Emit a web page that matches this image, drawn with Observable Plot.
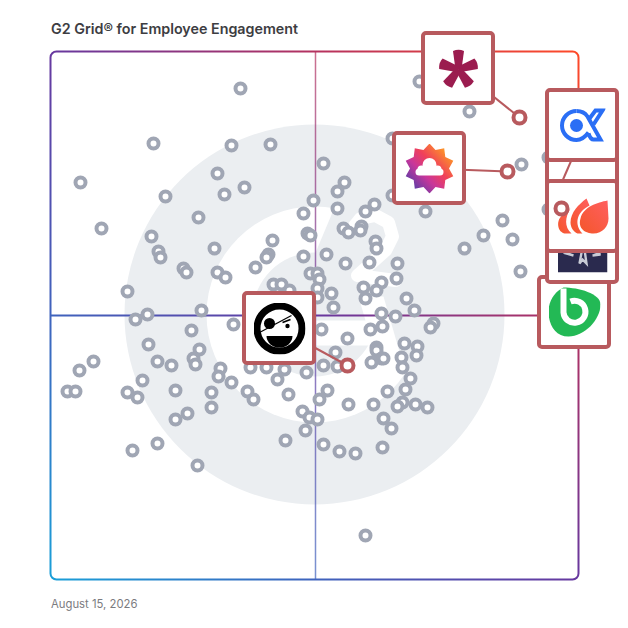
<!DOCTYPE html>
<html><head><meta charset="utf-8">
<script src="https://cdn.jsdelivr.net/npm/d3@7"></script>
<script src="https://cdn.jsdelivr.net/npm/@observablehq/plot@0.6"></script>
<style>
html,body{margin:0;padding:0;background:#fff;overflow:hidden}
#title{box-sizing:border-box;height:30px;padding:14px 0 0 51px;font:600 14.3px/30px Inter,sans-serif;color:#3d3d42;white-space:nowrap}
#date{padding:7px 0 0 51px;font:400 11.3px Inter,sans-serif;color:#7b7b80}
svg{display:block;overflow:visible}
</style></head><body>
<div id="title">G2 Grid® for Employee Engagement</div>
<div id="chart"></div>
<div id="date">August 15, 2026</div>
<script>
const satisfaction = [189,102,180,219,29,368,418,497,470,114,50,497,451,432,461,413,469,76,16,24,28,42,76,86,91,272,166,193,173,293,286,262,252,286,323,314,374,341,341,147,100,107,109,163,221,256,259,292,297,310,309,324,325,217,215,204,252,275,294,318,346,345,330,325,312,314,132,135,166,174,259,266,268,222,230,238,266,280,282,266,355,363,330,344,150,96,84,182,140,270,319,331,382,379,296,97,353,366,365,350,351,325,325,330,332,320,284,272,286,255,233,215,199,226,148,142,144,106,120,169,167,180,124,160,160,196,202,237,359,354,336,276,268,351,346,364,376,322,297,251,258,266,332,340,254,136,124,234,272,288,304,331,106,81,146,314];
const marketPresence = [491,436,434,435,397,498,468,422,415,383,351,370,359,344,340,331,308,288,188,188,209,218,187,182,199,416,406,392,385,397,388,379,366,371,375,368,368,441,384,362,343,328,322,331,339,346,344,351,347,353,349,338,331,325,322,312,323,325,316,317,316,301,297,289,292,281,311,307,307,302,306,306,300,295,295,289,291,286,272,282,281,269,266,263,269,265,260,255,249,250,250,253,256,252,241,235,236,233,224,222,212,232,229,221,221,217,227,214,213,207,210,212,212,200,230,221,215,218,214,211,203,197,189,187,172,188,180,185,201,190,188,189,180,177,173,175,172,175,175,168,162,160,161,151,149,166,160,139,135,128,126,132,136,129,114,44];

const logoNames = ["green","dark","hidden","alpha","flame","sunburst","asterisk","pirate"];
const logoX = [523,531,531,531,531,378,407,228];
const logoY = [267,332,414,454,363,411,511,251];
const ringNames = ["asterisk","sunburst","pirate","flame"];
const ringX = [468,456,296,510];
const ringY = [462,408,214,371];
const ringFromX = [407,378,228,531];
const ringFromY = [511,411,251,363];
const hiddenLinkX = [535,505];
const hiddenLinkY = [454,385];

const markX = 263, markY = 265;
const gapX = [286,389,389,354,324,279,262];
const gapY = [379,379,179,204,283,283,322];
const chevronX = [307,332,354,335,321,249,249,314];
const chevronY = [283,283,207,184,234,234,259,259];
const twoX = [301,309,324,337,341,334,306,344];
const twoY = [351,361,364,357,343,329,304,299];

const uri = s => "data:image/svg+xml," + encodeURIComponent(s);
const star = (() => {
  const p = [];
  for (let i = 0; i < 20; i++) {
    const a = -Math.PI / 2 + i * Math.PI / 10, r = i % 2 ? 19.5 : 25;
    p.push([(25 + r * Math.cos(a)).toFixed(1), (25 + r * Math.sin(a)).toFixed(1)].join(","));
  }
  return p.join(" ");
})();
const arms = [0,72,144,216,288].map(a => `<path transform="rotate(${a} 20 21)" d="M17 21 L14.5 2.5 Q20 0 25.5 2.5 L23 21Z"/>`).join("");
const logos = {
  asterisk: {w:40, src:uri(`<svg xmlns="http://www.w3.org/2000/svg" viewBox="0 0 40 40"><g fill="#9b1c4f">${arms}</g></svg>`)},
  alpha: {w:46, src:uri(`<svg xmlns="http://www.w3.org/2000/svg" viewBox="0 0 46 36"><g fill="none" stroke="#2a6ef5" stroke-width="4"><path d="M17 3.5A14.5 14.5 0 1 0 17 32.5C23 32.5 26 29 29 25"/><path d="M17 3.5C23 3.5 26 6 28 9L41 32H34C32 32 30 29 29 26"/><path d="M30 11L36 3H43L34 17"/></g><circle cx="17" cy="18" r="6.5" fill="#2a6ef5"/></svg>`)},
  flame: {w:54, src:uri(`<svg xmlns="http://www.w3.org/2000/svg" viewBox="0 0 54 36"><defs><linearGradient id="f" x1="0" y1="1" x2="1" y2="0"><stop offset="0" stop-color="#f4562a"/><stop offset="1" stop-color="#ff5f60"/></linearGradient></defs><g fill="url(#f)"><path d="M52 2C42 4 28 8 25 20C22 30 30 35 38 35C47 35 53 28 53 20Z"/><path d="M31 0C23 6 15 14 15 24C15 29 18 33 22 35L27 35C19 27 20 14 34 7Z"/><path d="M9 16C1 18 0 33 9 35L16 35C8 28 10 18 15 10Z"/></g></svg>`)},
  dark: {w:50, src:uri(`<svg xmlns="http://www.w3.org/2000/svg" viewBox="0 0 50 50"><rect width="50" height="50" fill="#2a2a4e"/><path d="M25 25L22 41L25 37L29 41L27 27M25 25L9 31L16 33M27 26L43 32L35 33" fill="none" stroke="#c8cbd6" stroke-width="2.4"/></svg>`)},
  green: {w:52, src:uri(`<svg xmlns="http://www.w3.org/2000/svg" viewBox="0 0 52 50"><path d="M15 0C30 0 52 6 52 17C52 32 36 49 20 49C6 49 0 36 0 24C0 14 6 4 15 0Z" fill="#23b955"/><path d="M15 1V25A11 11 0 1 0 22 14" fill="none" stroke="#fff" stroke-width="6"/></svg>`)},
  sunburst: {w:50, src:uri(`<svg xmlns="http://www.w3.org/2000/svg" viewBox="0 0 50 50"><defs><linearGradient id="s" x1="0.1" y1="0.9" x2="0.9" y2="0.1"><stop offset="0" stop-color="#4f3fa8"/><stop offset="0.35" stop-color="#c9369a"/><stop offset="0.6" stop-color="#f0405a"/><stop offset="1" stop-color="#ffa41f"/></linearGradient></defs><polygon points="${star}" fill="url(#s)"/><g fill="#fff"><circle cx="25" cy="21.5" r="7"/><circle cx="17" cy="26" r="4"/><circle cx="33" cy="26" r="4"/><rect x="11" y="25" width="28" height="7" rx="3.5"/></g></svg>`)},
  pirate: {w:52, src:uri(`<svg xmlns="http://www.w3.org/2000/svg" viewBox="0 0 52 52"><circle cx="26" cy="26" r="22.5" fill="none" stroke="#000" stroke-width="7"/><circle cx="16" cy="21" r="5.5"/><path d="M6 30L38 13" stroke="#000" stroke-width="1.2"/><circle cx="34" cy="23.5" r="2.2"/><path d="M29 20L37 17" stroke="#000" stroke-width="1.8"/><path d="M13 33.5H39A13 11.5 0 0 1 13 33.5Z"/></svg>`)}
};

const rows = satisfaction.map((x, i) => ({x, y: marketPresence[i]}));
const pts = (xs, ys) => xs.map((x, i) => ({x, y: ys[i]}));
const logoRows = logoNames.map((name, i) => ({name, x: logoX[i], y: logoY[i]}));
const ringRows = ringNames.map((name, i) => ({name, x: ringX[i], y: ringY[i], x0: ringFromX[i], y0: ringFromY[i]}));

const boxMark = d => [
  Plot.rect([d], {x1: r => r.x - 35, x2: r => r.x + 35, y1: r => r.y - 35, y2: r => r.y + 35, fill: "white", stroke: "#b85a5e", strokeWidth: 4, rx: 3}),
  ...(logos[d.name] ? [Plot.image([d], {x: "x", y: "y", src: r => logos[r.name].src, width: logos[d.name].w, height: logos[d.name].w})] : []),
  ...(d.name === "hidden" ? [Plot.link([0], {x1: () => hiddenLinkX[0], y1: () => hiddenLinkY[0], x2: () => hiddenLinkX[1], y2: () => hiddenLinkY[1], stroke: "#b85a5e", strokeWidth: 2})] : [])
];

const gradient = (index, {x, y}) => {
  const defs = d3.create("svg:defs");
  const g = defs.append("linearGradient").attr("id", "grid").attr("gradientUnits", "userSpaceOnUse")
    .attr("x1", x(0)).attr("y1", y(0)).attr("x2", x(528)).attr("y2", y(528));
  [[0,"#1a9fd8"],[0.25,"#3f63bd"],[0.5,"#67389f"],[0.75,"#b5325f"],[1,"#ff4a28"]]
    .forEach(([o, c]) => g.append("stop").attr("offset", o).attr("stop-color", c));
  return defs.node();
};

const chart = Plot.plot({
  width: 628, height: 560,
  marginLeft: 50, marginRight: 50, marginTop: 21, marginBottom: 11,
  x: {domain: [-1, 527], axis: null},
  y: {domain: [0, 528], axis: null},
  style: {background: "transparent", overflow: "visible"},
  marks: [
    gradient,
    Plot.dot([0], {x: () => markX, y: () => markY, r: 190, fill: "#ebeef1", stroke: "none"}),
    Plot.dot([0], {x: () => markX, y: () => markY, r: 108, fill: "white", stroke: "none"}),
    Plot.dot([0], {x: () => markX, y: () => markY, r: 62, fill: "#ebeef1", stroke: "none"}),
    Plot.line(pts(gapX, gapY), {x: "x", y: "y", fill: "#ebeef1", stroke: "none", curve: "linear-closed"}),
    Plot.line(pts(chevronX, chevronY), {x: "x", y: "y", fill: "white", stroke: "none", curve: "linear-closed"}),
    Plot.line(pts(twoX, twoY), {x: "x", y: "y", stroke: "white", strokeWidth: 13, curve: "linear"}),
    Plot.frame({stroke: "url(#grid)", strokeWidth: 2, rx: 6}),
    Plot.ruleX([264], {stroke: "url(#grid)", strokeWidth: 1.5, strokeOpacity: 0.7}),
    Plot.ruleY([264], {stroke: "url(#grid)", strokeWidth: 2}),
    Plot.dot(rows, {x: "x", y: "y", r: 5, fill: "white", stroke: "#a0a6b4", strokeWidth: 4}),
    Plot.link(ringRows, {x1: "x0", y1: "y0", x2: "x", y2: "y", stroke: "#b85a5e", strokeWidth: 2}),
    ...logoRows.flatMap(boxMark),
    Plot.dot(ringRows, {x: "x", y: "y", r: 6, fill: "white", stroke: "#b85a5e", strokeWidth: 4})
  ]
});
document.getElementById("chart").append(chart);
</script>
</body></html>
